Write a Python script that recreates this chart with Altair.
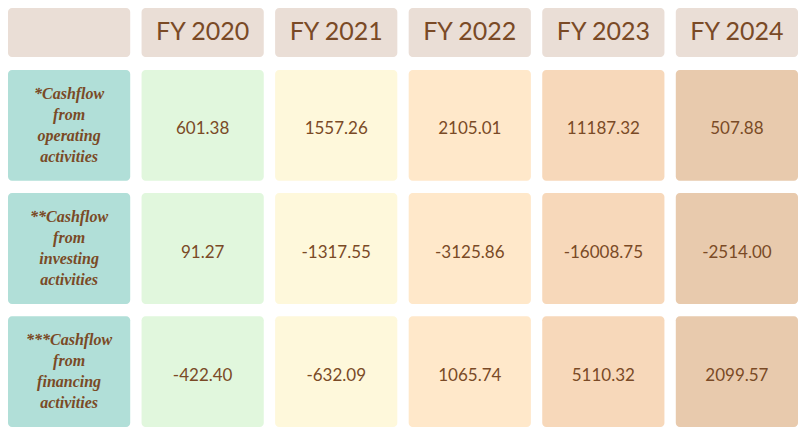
import altair as alt
import pandas as pd

# ---- data ----
col_keys = ["Label", "FY 2020", "FY 2021", "FY 2022", "FY 2023", "FY 2024"]
col_titles = ["", "FY 2020", "FY 2021", "FY 2022", "FY 2023", "FY 2024"]
row_keys = ["operating", "investing", "financing"]
row_labels = [
    "*Cashflow\nfrom\noperating\nactivities",
    "**Cashflow\nfrom\ninvesting\nactivities",
    "***Cashflow\nfrom\nfinancing\nactivities",
]
operating = ["601.38", "1557.26", "2105.01", "11187.32", "507.88"]
investing = ["91.27", "-1317.55", "-3125.86", "-16008.75", "-2514.00"]
financing = ["-422.40", "-632.09", "1065.74", "5110.32", "2099.57"]

# ---- style ----
header_bg = "#EADED6"
cell_colors = ["#B1DFD8", "#E1F7DD", "#FEF8DB", "#FFE8CA", "#F7D8BA", "#E8CAAD"]
text_color = "#7A4A26"

W = 790
HH = 49
BH = 357
LH = 21

header_df = pd.DataFrame({"key": col_keys, "title": col_titles, "hrow": ["h"] * len(col_keys)})

records = []
for rk, lab, vals in zip(row_keys, row_labels, [operating, investing, financing]):
    records.append({"key": "Label", "row": rk, "text": lab, "kind": "label"})
    for k, v in zip(col_keys[1:], vals):
        records.append({"key": k, "row": rk, "text": v, "kind": "value"})
body_df = pd.DataFrame(records)

x_enc = alt.X("key:N", sort=col_keys,
              scale=alt.Scale(domain=col_keys, paddingInner=0.085, paddingOuter=0),
              axis=None)

hy = alt.Y("hrow:N", scale=alt.Scale(paddingInner=0, paddingOuter=0), axis=None)
header_base = alt.Chart(header_df).encode(x=x_enc, y=hy)
header = alt.layer(
    header_base.mark_rect(cornerRadius=4, color=header_bg),
    header_base.mark_text(font="Lato", fontSize=25, fontWeight=400, color=text_color,
                          baseline="middle", dy=-1).encode(text="title:N"),
).properties(width=W, height=HH)

by = alt.Y("row:N", sort=row_keys,
           scale=alt.Scale(domain=row_keys, paddingInner=0.1, paddingOuter=0),
           axis=None)
body_base = alt.Chart(body_df).encode(x=x_enc, y=by)
body = alt.layer(
    body_base.mark_rect(cornerRadius=4).encode(
        color=alt.Color("key:N", scale=alt.Scale(domain=col_keys, range=cell_colors), legend=None)
    ),
    body_base.transform_filter("datum.kind == 'label'").mark_text(
        lineBreak="\n", font="Liberation Serif", fontStyle="italic", fontWeight="bold",
        fontSize=16, lineHeight=LH, color=text_color, baseline="middle", dy=-1.5 * LH
    ).encode(text="text:N"),
    body_base.transform_filter("datum.kind == 'value'").mark_text(
        font="Lato", fontSize=17, fontWeight=400, color=text_color, baseline="middle", dy=4
    ).encode(text="text:N"),
).properties(width=W, height=BH)

chart = alt.vconcat(header, body, spacing=13).resolve_scale(
    x="independent", y="independent", color="independent"
).properties(padding=0, background="white").configure_view(strokeWidth=0, stroke="transparent")

chart.save("out.html", embed_options={"renderer": "svg", "actions": False})
